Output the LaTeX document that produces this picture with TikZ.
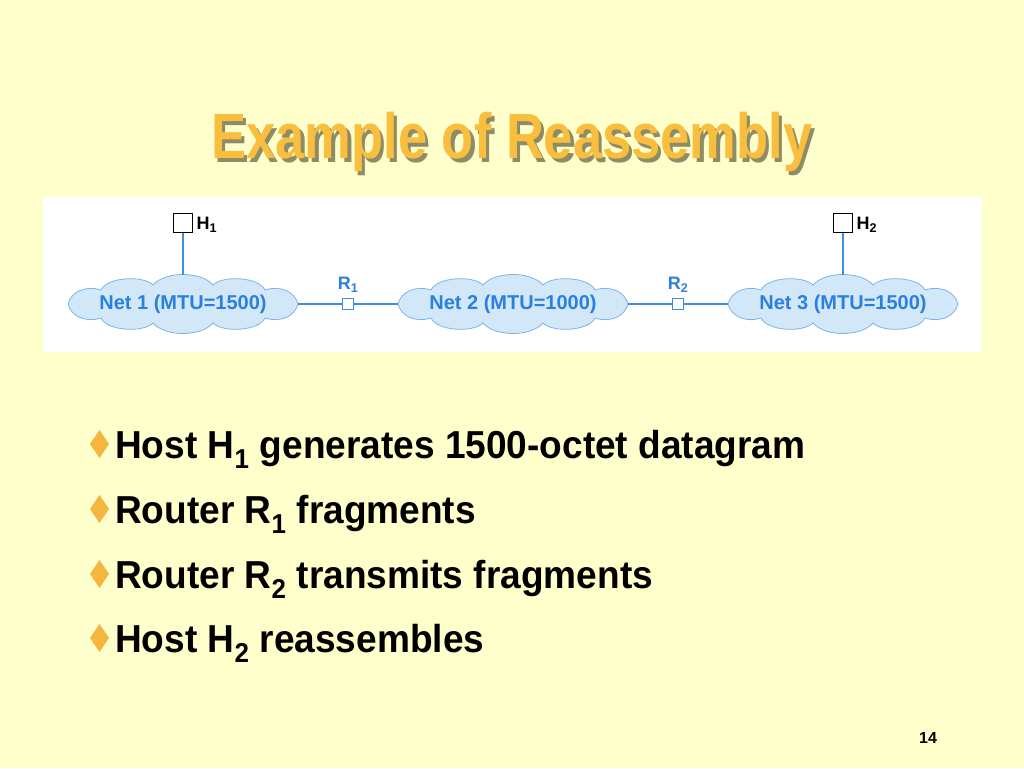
\documentclass[tikz,border=0pt]{standalone}
\usepackage{fontspec}
\setmainfont{Liberation Sans}
\usetikzlibrary{positioning}
\definecolor{slidebg}{HTML}{FFFFCC}
\definecolor{titleorange}{HTML}{F9BE3E}
\definecolor{titleshadow}{HTML}{8E8C66}
\definecolor{netfill}{HTML}{D2E8F8}
\definecolor{netline}{HTML}{7DB4E8}
\definecolor{nettext}{HTML}{2A80E0}
\definecolor{linkblue}{HTML}{3C8FE6}
\definecolor{bulletorange}{HTML}{F5B640}
\newcommand{\titletext}{Example of Reassembly}
\tikzset{
  pics/netcloud/.style={code={
    \draw[draw=netline,fill=netfill,line width=0.8pt]
      (-115,0) .. controls (-112,-12) and (-98,-19) .. (-82,-14)
      .. controls (-76,-27) and (-40,-29) .. (-30,-19)
      .. controls (-18,-33) and (18,-33) .. (30,-19)
      .. controls (40,-29) and (76,-27) .. (82,-14)
      .. controls (98,-19) and (112,-12) .. (115,0)
      .. controls (112,12) and (98,19) .. (82,14)
      .. controls (76,27) and (40,29) .. (30,19)
      .. controls (18,33) and (-18,33) .. (-30,19)
      .. controls (-40,29) and (-76,27) .. (-82,14)
      .. controls (-98,19) and (-112,12) .. (-115,0) -- cycle;
  }}
}

\begin{document}
\begin{tikzpicture}[x=1pt,y=-1pt,
  net/.style={minimum width=230,minimum height=58,inner sep=0pt,
    font=\fontsize{20}{24}\selectfont\bfseries,text=nettext},
  host/.style={draw=black,line width=1.6pt,fill=white,minimum size=19,inner sep=0pt},
  router/.style={draw=linkblue,line width=1.2pt,fill=white,minimum size=11,inner sep=0pt},
  link/.style={draw=linkblue,line width=1.3pt},
  lbl/.style={font=\fontsize{18}{21}\selectfont\bfseries,inner sep=1pt},
  item/.style={anchor=base west,inner sep=0pt,xscale=0.95,transform shape,
    font=\fontsize{39}{46}\selectfont\bfseries}]
  \useasboundingbox[fill=slidebg] (0,0) rectangle (1024,768);
  % title with its shadow
  \node[anchor=base,inner sep=0pt,xscale=0.82,transform shape,
    font=\fontsize{64}{70}\selectfont\bfseries] (title) at (512,158)
    {\makebox[0pt][l]{\raisebox{-4pt}[0pt][0pt]{\hspace{4pt}\textcolor{titleshadow}{\titletext}}}%
     \textcolor{titleorange}{\titletext}};
  % diagram panel
  \fill[white] (43,197) rectangle (982,352);
  \foreach \cx in {183,513,843} \pic at (\cx,304) {netcloud};
  \node[net] (net1) at (183,304) {Net 1 (MTU=1500)};
  \node[net] (net2) at (513,304) {Net 2 (MTU=1000)};
  \node[net] (net3) at (843,304) {Net 3 (MTU=1500)};
  \node[router] (r1) at (348,304) {};
  \node[router] (r2) at (678,304) {};
  \node[host] (h1) at (183,223) {};
  \node[host] (h2) at (843,223) {};
  \node[lbl,text=nettext,above=4pt of r1] {R\textsubscript{1}};
  \node[lbl,text=nettext,above=4pt of r2] {R\textsubscript{2}};
  \node[lbl,right=2pt of h1,yshift=-2pt] {H\textsubscript{1}};
  \node[lbl,right=2pt of h2,yshift=-2pt] {H\textsubscript{2}};
  \path[link] (h1) -- (net1.north);
  \path[link] (h2) -- (net3.north);
  \path[link] (net1.east) -- (r1) -- (net2.west);
  \path[link] (net2.east) -- (r2) -- (net3.west);
  % bullets
  \foreach \y in {458,523,588,652}
    \fill[bulletorange] (99.5,\y-28) -- (109,\y-14) -- (99.5,\y) -- (90,\y-14) -- cycle;
  \node[item] (b1) at (115,458) {Host H\textsubscript{1} generates 1500-octet datagram};
  \node[item] (b2) at (115,523) {Router R\textsubscript{1} fragments};
  \node[item] (b3) at (115,588) {Router R\textsubscript{2} transmits fragments};
  \node[item] (b4) at (115,652) {Host H\textsubscript{2} reassembles};
  % page number
  \node[font=\fontsize{16}{18}\selectfont\bfseries] (pg) at (928,738) {14};
\end{tikzpicture}
\end{document}
